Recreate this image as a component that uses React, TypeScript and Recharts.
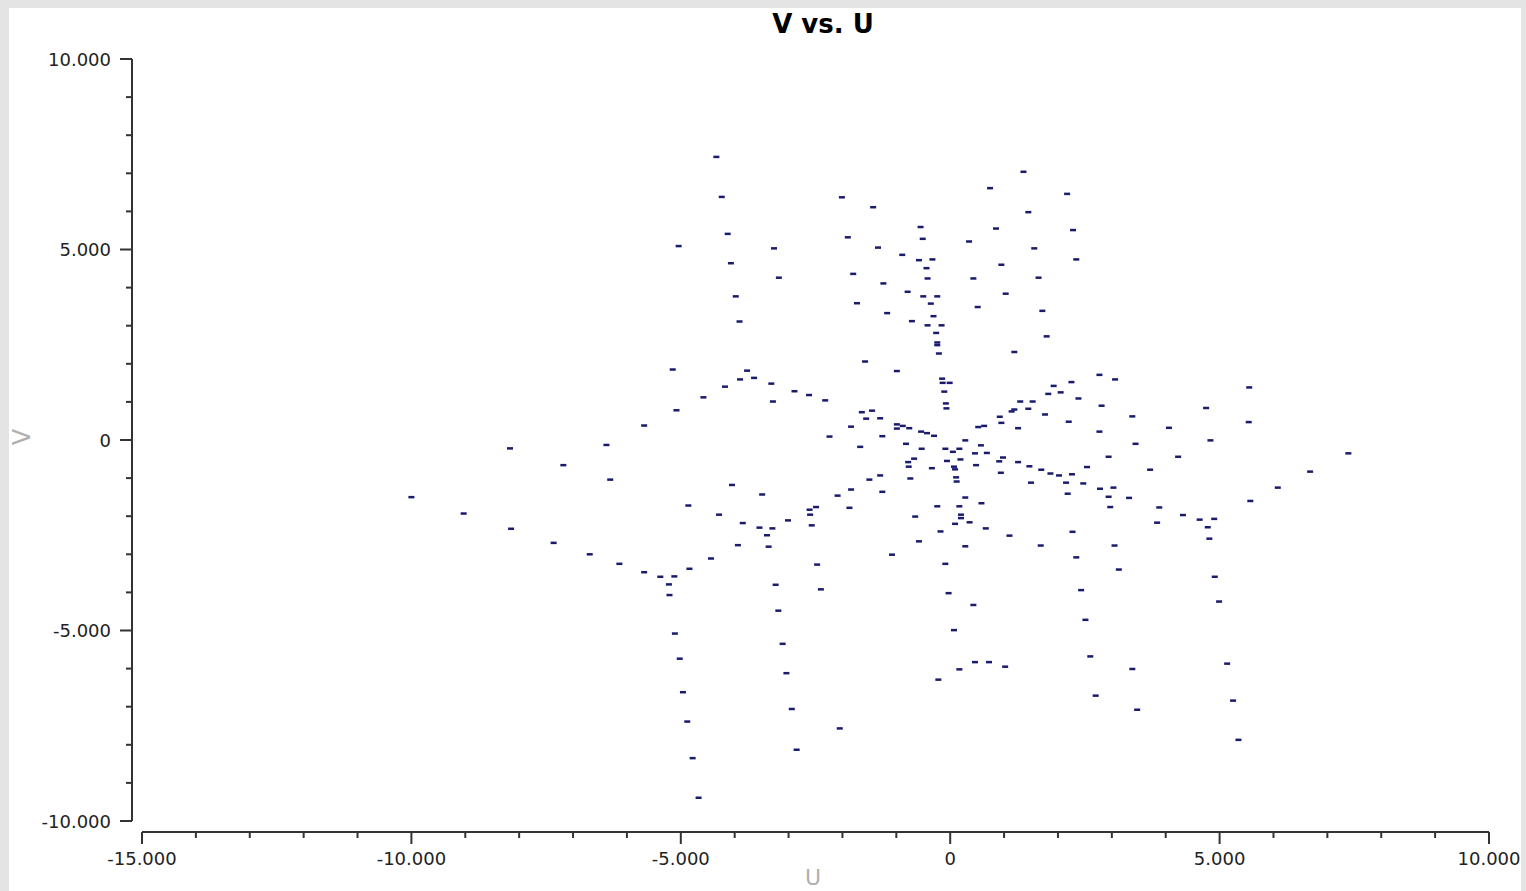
import { ScatterChart, Scatter, XAxis, YAxis, ReferenceLine } from "recharts";

// u / v pairs (same order in both arrays)
const uValues = [
  -4.34, -4.24, -4.13, -5.04, -3.27, -4.07, -3.18, -3.98, -3.91, -5.15,
  -3.77, -3.9, -3.64, -3.32, -4.18, -4.58, -3.29, -5.08, -5.68, -6.38,
  -8.17, -7.18, -6.31, -10.0, -9.03, -8.15, -7.36, -6.69, -6.14, -5.68,
  -5.38, -5.22, -5.12, -4.84, -5.21, -4.44, -5.11, -5.02, -4.96, -4.88,
  -4.78, -4.67, -4.05, -3.49, -4.86, -4.29, -3.85, -3.54, -3.3, -3.4,
  -3.94, -3.37, -3.24, -3.19, -3.11, -3.04, -2.94, -2.85, -2.05, -2.47,
  -2.4, -1.58, -2.89, -2.62, -2.32, -1.64, -1.45, -1.56, -1.3, -1.84,
  -2.24, -1.67, -1.26, -0.99, -0.99, -0.88, -0.76, -0.54, -0.43, -0.3,
  -0.82, -0.53, -0.67, -0.78, -0.77, -0.74, -1.3, -1.5, -1.26, -1.84,
  -2.09, -2.49, -1.87, -2.61, -2.6, -3.01, -2.57, -2.01, -1.43, -1.9,
  -1.34, -0.89, -0.58, -0.33, -0.44, -0.55, -0.51, -1.8, -1.24, -0.42,
  -0.79, -0.5, -0.24, -0.36, -1.73, -1.17, -0.31, -0.71, -0.42, -0.16,
  -0.26, -0.24, -0.24, -0.21, -0.99, -0.15, -0.14, -0.01, -0.11, -0.08,
  -0.07, -0.09, 0.05, 0.17, -0.06, 0.19, -0.34, 0.07, 0.09, 0.11,
  0.12, 0.28, 0.46, 0.48, 0.57, 0.68, 0.52, 0.63, 0.92, 0.95,
  1.14, 1.19, 1.3, 1.53, 1.45, 1.26, 1.76, 1.82, 2.05, 1.92,
  2.25, 2.38, 2.2, 2.77, 3.06, 2.81, 3.38, 4.06, 2.77, 3.44,
  2.94, 4.23, 3.71, 2.54, 2.26, 2.02, 1.86, 1.69, 1.47, 1.26,
  0.98, 0.91, 0.94, 1.5, 2.15, 2.47, 2.18, 2.78, 3.03, 2.94,
  3.32, 2.97, 3.88, 3.84, 2.27, 3.05, 2.34, 3.13, 1.68, 1.1,
  0.66, 0.58, 0.28, 0.17, -0.24, 0.2, 0.2, 0.36, 0.09, -0.18,
  -0.58, -0.65, 0.28, -0.09, -1.08, -0.03, 0.43, 0.07, 0.17, -0.22,
  0.46, 0.72, 1.02, 2.43, 2.51, 2.6, 2.7, 3.38, 3.47, 4.75,
  4.83, 5.55, 5.54, 7.39, 6.68, 6.08, 5.57, 4.32, 4.63, 4.9,
  4.78, 4.81, 4.91, 4.99, 5.14, 5.25, 5.35, 1.36, 0.74, 2.17,
  1.45, 0.85, 2.28, 0.35, 1.56, 2.34, 0.95, 1.64, 0.43, 1.03,
  0.51, 1.71, 1.79, 1.19,
];

const vValues = [
  7.43, 6.38, 5.41, 5.09, 5.03, 4.64, 4.26, 3.77, 3.11, 1.85,
  1.82, 1.59, 1.63, 1.48, 1.4, 1.12, 1.01, 0.78, 0.38, -0.13,
  -0.22, -0.66, -1.04, -1.5, -1.93, -2.33, -2.7, -3.0, -3.25, -3.47,
  -3.59, -3.79, -3.58, -3.38, -4.07, -3.11, -5.08, -5.74, -6.62, -7.39,
  -8.35, -9.39, -1.18, -1.43, -1.72, -1.96, -2.18, -2.3, -2.32, -2.5,
  -2.76, -2.8, -3.8, -4.48, -5.35, -6.12, -7.06, -8.13, -7.57, -3.27,
  -3.92, 2.06, 1.28, 1.18, 1.04, 0.73, 0.77, 0.56, 0.57, 0.35,
  0.09, -0.18, 0.1, 0.41, 0.3, 0.37, 0.31, 0.22, 0.18, 0.11,
  -0.1, -0.23, -0.49, -0.58, -0.7, -1.01, -0.93, -1.04, -1.36, -1.3,
  -1.46, -1.76, -1.78, -1.83, -1.96, -2.11, -2.24, 6.37, 6.11, 5.32,
  5.05, 4.86, 4.72, 4.74, 4.51, 5.59, 5.28, 4.36, 4.11, 4.24,
  3.89, 3.77, 3.77, 3.58, 3.59, 3.33, 3.25, 3.12, 3.01, 3.01,
  2.81, 2.56, 2.49, 2.27, 1.81, 1.61, 1.5, 1.5, 1.27, 0.96,
  0.83, -0.23, -0.31, -0.23, -0.55, -0.51, -0.74, -0.7, -0.77, -0.98,
  -1.09, -0.01, -0.35, -0.66, -0.14, -0.34, 0.34, 0.37, 0.61, 0.45,
  0.75, 0.8, 1.01, 1.01, 0.82, 0.31, 0.67, 1.21, 1.25, 1.42,
  1.52, 1.09, 0.48, 1.71, 1.59, 0.9, 0.62, 0.32, 0.22, -0.1,
  -0.44, -0.44, -0.78, -0.71, -0.9, -0.93, -0.88, -0.78, -0.69, -0.58,
  -0.46, -0.56, -0.86, -1.12, -1.12, -1.14, -1.41, -1.28, -1.25, -1.49,
  -1.52, -1.76, -1.77, -2.17, -2.41, -2.77, -3.08, -3.4, -2.77, -2.51,
  -2.32, -1.66, -1.51, -1.74, -1.74, -1.96, -2.05, -2.16, -2.2, -2.4,
  -2.66, -2.01, -2.79, -3.25, -3.01, -4.02, -4.33, -4.99, -6.02, -6.29,
  -5.83, -5.83, -5.95, -3.94, -4.72, -5.68, -6.71, -6.01, -7.08, 0.84,
  -0.01, 1.38, 0.47, -0.35, -0.83, -1.25, -1.6, -1.97, -2.09, -2.07,
  -2.29, -2.59, -3.59, -4.24, -5.87, -6.84, -7.87, 7.04, 6.61, 6.46,
  5.98, 5.55, 5.51, 5.21, 5.03, 4.74, 4.6, 4.26, 4.24, 3.84,
  3.49, 3.39, 2.72, 2.31,
];

const xTicks = [
  -15, -14, -13, -12, -11, -10, -9, -8, -7, -6, -5, -4, -3, -2, -1, 0,
  1, 2, 3, 4, 5, 6, 7, 8, 9, 10,
];
const yTicks = [
  -10, -9, -8, -7, -6, -5, -4, -3, -2, -1, 0, 1, 2, 3, 4, 5, 6, 7, 8, 9, 10,
];

const points = uValues.map((u, i) => ({ u, v: vValues[i] }));

const AXIS = "#333333";
const DOT = "#1b1b6e";
const FONT = '"DejaVu Sans", sans-serif';
const X_GAP = 11; // x axis sits a bit below the data box

const fmt = (n: number) => (n === 0 ? "0" : n.toFixed(3));
const isMajor = (n: number) => n % 5 === 0;

function XTick(props: any) {
  const { x, y, payload } = props;
  const major = isMajor(payload.value);
  const ly = y + X_GAP;
  return (
    <g>
      <line x1={x} y1={ly} x2={x} y2={ly + (major ? 12 : 6)} stroke={AXIS} strokeWidth={2} />
      {major && (
        <text x={x} y={ly + 33} textAnchor="middle" fontSize={18} fontFamily={FONT} fill="#222">
          {fmt(payload.value)}
        </text>
      )}
    </g>
  );
}

function YTick(props: any) {
  const { x, y, payload } = props;
  const major = isMajor(payload.value);
  return (
    <g>
      <line x1={x - (major ? 12 : 6)} y1={y} x2={x} y2={y} stroke={AXIS} strokeWidth={2} />
      {major && (
        <text x={x - 21} y={y + 6.5} textAnchor="end" fontSize={18} fontFamily={FONT} fill="#222">
          {fmt(payload.value)}
        </text>
      )}
    </g>
  );
}

function Dash(props: any) {
  const { cx, cy } = props;
  return <rect x={cx - 3} y={cy - 1.25} width={6} height={2.5} fill={DOT} />;
}

export default function App() {
  return (
    <div style={{ position: "fixed", left: 0, top: 0, width: 1526, height: 891, background: "#e4e4e4" }}>
      <div
        style={{
          position: "absolute",
          left: 9,
          top: 8,
          width: 1512,
          height: 883,
          background: "#fff",
          overflow: "hidden",
          fontFamily: FONT,
        }}
      >
        <ScatterChart
          width={1512}
          height={883}
          margin={{ top: 51, right: 32, bottom: 10, left: 0 }}
          style={{ fontFamily: FONT }}
        >
          <XAxis
            type="number"
            dataKey="u"
            domain={[-15, 10]}
            ticks={xTicks}
            interval={0}
            padding={{ left: 10, right: 0 }}
            axisLine={false}
            tickLine={false}
            tickSize={0}
            tickMargin={0}
            height={60}
            allowDataOverflow
            tick={(p: any) => <XTick {...p} />}
          />
          <YAxis
            type="number"
            dataKey="v"
            domain={[-10, 10]}
            ticks={yTicks}
            interval={0}
            width={123}
            axisLine={{ stroke: AXIS, strokeWidth: 2 }}
            tickLine={false}
            tickSize={0}
            tickMargin={0}
            allowDataOverflow
            tick={(p: any) => <YTick {...p} />}
          />
          <ReferenceLine
            segment={[
              { x: -15, y: -10 },
              { x: 10, y: -10 },
            ]}
            ifOverflow="visible"
            shape={(p: any) => (
              <line x1={p.x1} y1={p.y1 + X_GAP} x2={p.x2} y2={p.y2 + X_GAP} stroke={AXIS} strokeWidth={2} />
            )}
          />
          <Scatter data={points} fill={DOT} isAnimationActive={false} shape={(p: any) => <Dash {...p} />} />
        </ScatterChart>

        <div
          style={{
            position: "absolute",
            left: 814,
            top: 16,
            transform: "translate(-50%, -50%)",
            fontSize: 26,
            fontWeight: "bold",
            lineHeight: 1,
            whiteSpace: "nowrap",
            color: "#000",
          }}
        >
          V vs. U
        </div>
        <div
          style={{
            position: "absolute",
            left: 13,
            top: 429,
            transform: "translate(-50%, -50%) rotate(-90deg)",
            fontSize: 24,
            lineHeight: 1,
            color: "#b0b0b0",
          }}
        >
          V
        </div>
        <div
          style={{
            position: "absolute",
            left: 804,
            top: 870,
            transform: "translate(-50%, -50%)",
            fontSize: 22,
            lineHeight: 1,
            color: "#b0b0b0",
          }}
        >
          U
        </div>
      </div>
    </div>
  );
}
